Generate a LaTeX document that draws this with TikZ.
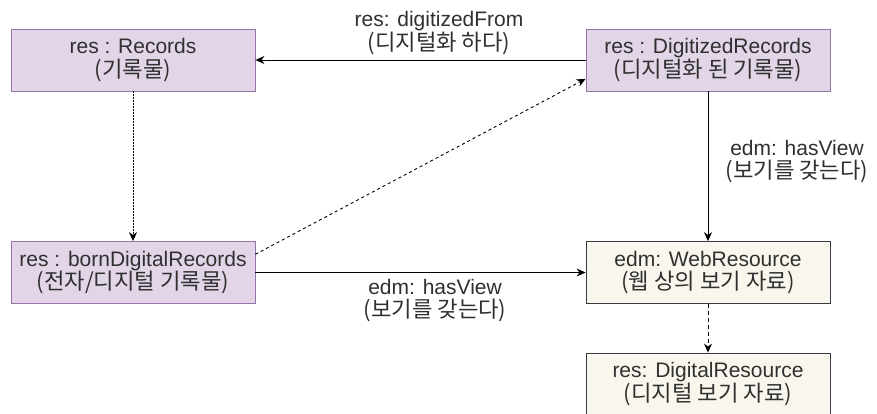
\documentclass[tikz,border=0pt]{standalone}
\usepackage{fontspec}
\setmainfont{Liberation Sans}
\newfontfamily\cjk[Scale=1.06]{Noto Sans CJK KR}
\usetikzlibrary{arrows.meta,calc}
\definecolor{purfill}{HTML}{E1D5E7}
\definecolor{purdraw}{HTML}{9673A6}
\definecolor{begfill}{HTML}{F9F7ED}
\definecolor{begdraw}{HTML}{36393D}
\definecolor{txt}{HTML}{303030}
\tikzset{
  box/.style={minimum width=244pt, minimum height=62pt, inner sep=0pt, align=center,
    font=\fontsize{21}{23.5}\selectfont, text=txt, line width=0.8pt},
  purbox/.style={box, draw=purdraw, fill=purfill},
  begbox/.style={box, draw=begdraw, fill=begfill},
  arr/.style={-{Stealth[length=9pt,width=8pt]}, line width=0.9pt, draw=black},
  elabel/.style={align=center, font=\fontsize{21}{23.5}\selectfont, text=txt, inner sep=0pt, fill=none}
}
\begin{document}
\begin{tikzpicture}[x=1pt,y=-1pt]
\useasboundingbox (0,0) rectangle (877,414);
\fill[white] (0,0) rectangle (877,414);
\node[purbox] (rec) at (133,60) {res : Records\\{\cjk (기록물)}};
\node[purbox] (dig) at (708,60) {res : DigitizedRecords\\{\cjk (디지털화 된 기록물)}};
\node[purbox] (bd) at (133,272.5) {res : bornDigitalRecords\\{\cjk (전자/디지털 기록물)}};
\node[begbox] (web) at (708,272.5) {edm: WebResource\\{\cjk (웹 상의 보기 자료)}};
\node[begbox] (dres) at (708,384) {res: DigitalResource\\{\cjk (디지털 보기 자료)}};

\draw[arr] (dig.west) -- node[elabel, pos=0.444, yshift=27pt] (l1) {res: digitizedFrom\\{\cjk (디지털화 하다)}} (rec.east);
\draw[arr, dash pattern=on 1.5pt off 1.5pt] (rec.south) -- (bd.north);
\draw[arr, dash pattern=on 3pt off 3pt] ($(bd.north east)!0.21!(bd.south east)$) -- ($(dig.north west)!0.8!(dig.south west)$);
\draw[arr] (bd.east) -- node[elabel, pos=0.544, yshift=-28pt] (l2) {edm: hasView\\{\cjk (보기를 갖는다)}} (web.west);
\draw[arr] (dig.south) -- node[elabel, pos=0.47, xshift=89pt] (l3) {edm: hasView\\{\cjk (보기를 갖는다)}} (web.north);
\draw[arr, dash pattern=on 4pt off 3pt] (web.south) -- (dres.north);
\end{tikzpicture}
\end{document}
